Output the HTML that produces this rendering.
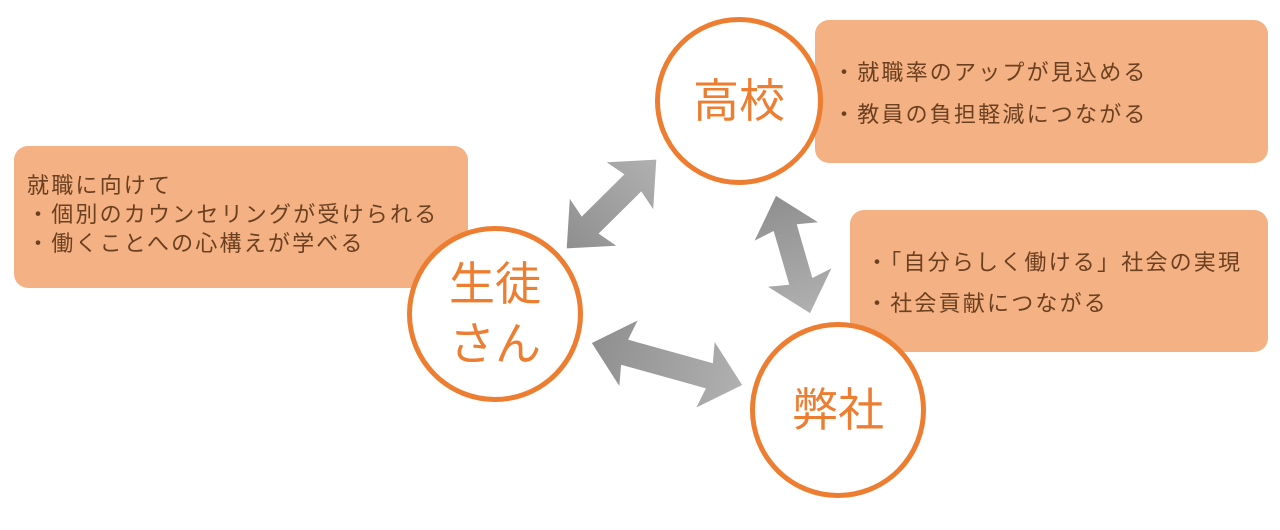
<!DOCTYPE html>
<html><head><meta charset="utf-8"><style>
body{margin:0;width:1280px;height:530px;background:#fff;position:relative;overflow:hidden;font-family:"Liberation Sans","Noto Sans CJK JP",sans-serif}
.box{position:absolute;background:#f4b183;border-radius:14px}
.t{position:absolute;color:#6b4020;font-size:22px;letter-spacing:2.2px;white-space:nowrap;line-height:29px}
.c{position:absolute;border:5px solid #ed7d31;border-radius:50%;background:#fff;box-sizing:border-box;color:#ed7d31;font-size:46px;display:flex;align-items:center;justify-content:center;text-align:center;line-height:58px}
svg{position:absolute;left:0;top:0}
</style></head><body>
<div class="box" style="left:14px;top:146px;width:454px;height:142px"></div>
<div class="box" style="left:815px;top:20px;width:453px;height:143px"></div>
<div class="box" style="left:850px;top:210px;width:418px;height:142px"></div>
<div class="t" style="left:27px;top:171px">就職に向けて<br>・個別のカウンセリングが受けられる<br>・働くことへの心構えが学べる</div>
<div class="t" style="left:833px;top:52px;line-height:42px">・就職率のアップが見込める<br>・教員の負担軽減につながる</div>
<div class="t" style="left:866px;top:242px;line-height:41px">・「自分らしく働ける」社会の実現<br>・社会貢献につながる</div>
<svg width="1280" height="530">
<defs><linearGradient id="g" x1="0" x2="1"><stop offset="0" stop-color="#8f8f8f"/><stop offset="1" stop-color="#b0b0b0"/></linearGradient></defs>
<g fill="url(#g)">
<g transform="translate(611.5,204) rotate(-44.7)">
<polygon points="-63,0 -26,-33 -30,-12 30,-12 26,-33 63,0 26,33 30,12 -30,12 -26,33"/></g>
<g transform="translate(793,254.5) rotate(73.8)">
<polygon points="-61,0 -24,-33 -28,-12 28,-12 24,-33 61,0 24,33 28,12 -28,12 -24,33"/></g>
<g transform="translate(667,364) rotate(15.6)">
<polygon points="-78,0 -40,-34 -44,-13 44,-13 40,-34 78,0 40,34 44,13 -44,13 -40,34"/></g>
</g>
</svg>
<div class="c" style="left:655px;top:17px;width:168px;height:168px">高校</div>
<div class="c" style="left:407px;top:226px;width:176px;height:176px;line-height:60px">生徒<br>さん</div>
<div class="c" style="left:750px;top:322px;width:176px;height:176px">弊社</div>
</body></html>
